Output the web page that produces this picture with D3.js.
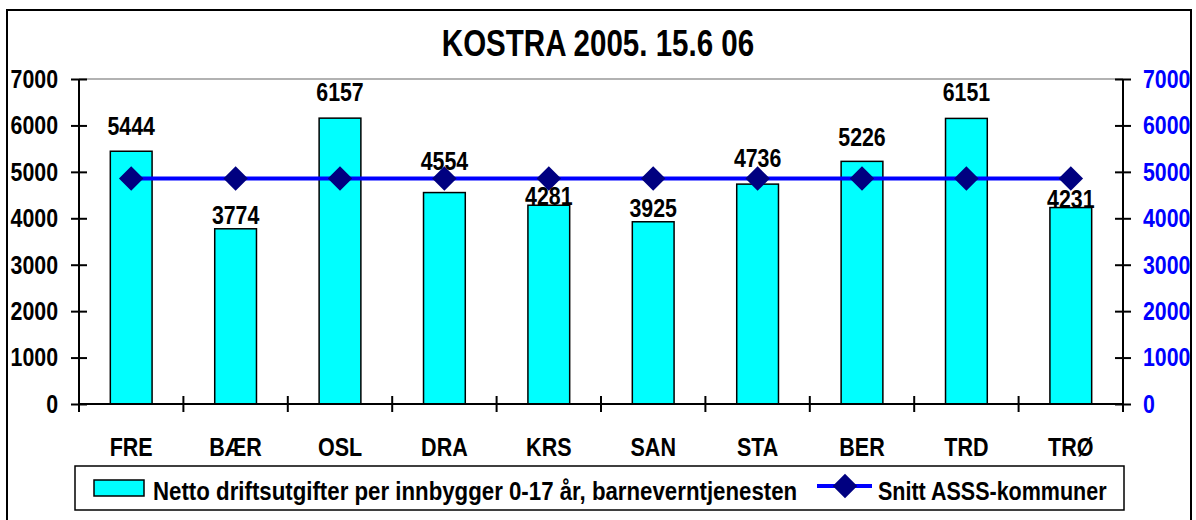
<!DOCTYPE html>
<html>
<head>
<meta charset="utf-8">
<script src="https://cdn.jsdelivr.net/npm/d3@7"></script>
<style>
  html, body { margin: 0; padding: 0; background: #fff; }
  svg { display: block; }
  text { font-family: "Liberation Sans", Arial, sans-serif; font-weight: bold; }
</style>
</head>
<body>
<svg id="chart" width="1196" height="520"></svg>
<script>
const title = "KOSTRA 2005. 15.6 06";
const categories = ["FRE", "BÆR", "OSL", "DRA", "KRS", "SAN", "STA", "BER", "TRD", "TRØ"];
const barValues = [5444, 3774, 6157, 4554, 4281, 3925, 4736, 5226, 6151, 4231];
const lineValues = [4855, 4855, 4855, 4855, 4855, 4855, 4855, 4855, 4855, 4855];
const yTicks = [0, 1000, 2000, 3000, 4000, 5000, 6000, 7000];
const barSeriesName = "Netto driftsutgifter per innbygger 0-17 år, barneverntjenesten";
const lineSeriesName = "Snitt ASSS-kommuner";
// gap (px) between each bar top and its value label baseline
const labelGaps = [16, 5, 17, 23, 0, 5, 17, 15, 17, 0];

const svg = d3.select("#chart");
const pL = 79, pR = 1123, pT = 79, pB = 404;

// condense Liberation Sans to Arial-Narrow-like proportions
function narrow(sel, factor = 0.82) {
  sel.each(function () {
    const len = this.getComputedTextLength();
    d3.select(this).attr("textLength", len * factor).attr("lengthAdjust", "spacingAndGlyphs");
  });
}
// condense by a horizontal scale around the text's x anchor
function squeeze(sel, factor = 0.82) {
  sel.each(function () {
    const x0 = +d3.select(this).attr("x") || 0;
    d3.select(this).attr("transform", `translate(${x0},0) scale(${factor},1) translate(${-x0},0)`);
  });
}

// outer frame
svg.append("rect").attr("x", 7).attr("y", 10).attr("width", 1184).attr("height", 530)
  .attr("fill", "#fff").attr("stroke", "#000").attr("stroke-width", 2);

const x = d3.scaleBand().domain(categories).range([pL, pR]).paddingInner(0.6).paddingOuter(0.3);
const y = d3.scaleLinear().domain([0, 7000]).range([pB, pT]);
const y2 = d3.scaleLinear().domain([0, 7000]).range([pB, pT]);

// title
svg.append("text").attr("x", 598).attr("y", 56).attr("text-anchor", "middle")
  .attr("font-size", 36).text(title).call(narrow);

// plot top border (gray)
svg.append("line").attr("x1", pL).attr("x2", pR).attr("y1", pT).attr("y2", pT)
  .attr("stroke", "#999").attr("stroke-width", 1.5);

// bars
svg.append("g").selectAll("rect").data(barValues).join("rect")
  .attr("x", (d, i) => x(categories[i]))
  .attr("y", d => y(d))
  .attr("width", x.bandwidth())
  .attr("height", d => y(0) - y(d))
  .attr("fill", "#00FFFF").attr("stroke", "#000").attr("stroke-width", 1.5);

// axes
const tickLen = 8;
const gL = svg.append("g").attr("transform", `translate(${pL},0)`)
  .call(d3.axisLeft(y).tickValues(yTicks).tickSize(tickLen).tickPadding(13).tickFormat(d3.format("d")));
gL.selectAll(".tick line").attr("x2", tickLen).attr("x1", -tickLen);
const gR = svg.append("g").attr("transform", `translate(${pR},0)`)
  .call(d3.axisRight(y2).tickValues(yTicks).tickSize(tickLen).tickPadding(12).tickFormat(d3.format("d")));
gR.selectAll(".tick line").attr("x1", -tickLen).attr("x2", tickLen);
const gX = svg.append("g").attr("transform", `translate(0,${pB})`)
  .call(d3.axisBottom(x).tickSize(0).tickPadding(44));
// category separator ticks
const step = x.step();
const sepPos = d3.range(categories.length + 1).map(i => pL + i * step);
svg.append("g").selectAll("line").data(sepPos).join("line")
  .attr("x1", d => d).attr("x2", d => d).attr("y1", pB - tickLen).attr("y2", pB + tickLen)
  .attr("stroke", "#000").attr("stroke-width", 2);

[gL, gR, gX].forEach(g => {
  g.attr("font-family", null).attr("font-size", null);
  g.selectAll(".domain").attr("stroke", "#000").attr("stroke-width", 2);
  g.selectAll(".tick line").attr("stroke", "#000").attr("stroke-width", 2);
  g.selectAll(".tick text").attr("font-size", 26).attr("fill", "#000");
});
gR.selectAll(".tick text").attr("fill", "#0000FF");
gL.select(".domain").attr("d", `M0,${pT}V${pB}`);
gR.select(".domain").attr("d", `M0,${pT}V${pB}`);
gX.select(".domain").attr("d", `M${pL},0H${pR}`);
gX.selectAll(".tick text").attr("font-size", 25).attr("dy", "0.32em");
gL.selectAll(".tick text").call(narrow);
gR.selectAll(".tick text").call(squeeze);
gX.selectAll(".tick text").call(narrow, 0.86);

// line
const line = d3.line().x((d, i) => x(categories[i]) + x.bandwidth() / 2).y(d => y2(d));
svg.append("path").datum(lineValues).attr("d", line)
  .attr("fill", "none").attr("stroke", "#0000FF").attr("stroke-width", 4);
svg.append("g").selectAll("path").data(lineValues).join("path")
  .attr("d", d3.symbol().type(d3.symbolSquare).size(300)())
  .attr("transform", (d, i) => `translate(${x(categories[i]) + x.bandwidth() / 2},${y2(d)}) rotate(45)`)
  .attr("fill", "#000080");

// value labels
svg.append("g").selectAll("text").data(barValues).join("text")
  .attr("x", (d, i) => x(categories[i]) + x.bandwidth() / 2)
  .attr("y", (d, i) => y(d) - labelGaps[i])
  .attr("text-anchor", "middle").attr("font-size", 26).attr("fill", "#000")
  .text(d => d).call(narrow);

// legend
const lg = svg.append("g");
lg.append("rect").attr("x", 75).attr("y", 466).attr("width", 1049).attr("height", 44)
  .attr("fill", "#fff").attr("stroke", "#000").attr("stroke-width", 1.5);
lg.append("rect").attr("x", 94).attr("y", 480).attr("width", 50).attr("height", 16)
  .attr("fill", "#00FFFF").attr("stroke", "#000").attr("stroke-width", 1.5);
lg.append("text").attr("x", 153).attr("y", 500).attr("font-size", 25).text(barSeriesName).call(narrow, 0.89);
lg.append("line").attr("x1", 817).attr("x2", 872).attr("y1", 486).attr("y2", 486)
  .attr("stroke", "#0000FF").attr("stroke-width", 4);
lg.append("path").attr("d", d3.symbol().type(d3.symbolSquare).size(300)())
  .attr("transform", "translate(845,486) rotate(45)").attr("fill", "#000080");
lg.append("text").attr("x", 878).attr("y", 500).attr("font-size", 25).text(lineSeriesName).call(narrow, 0.86);
</script>
</body>
</html>
